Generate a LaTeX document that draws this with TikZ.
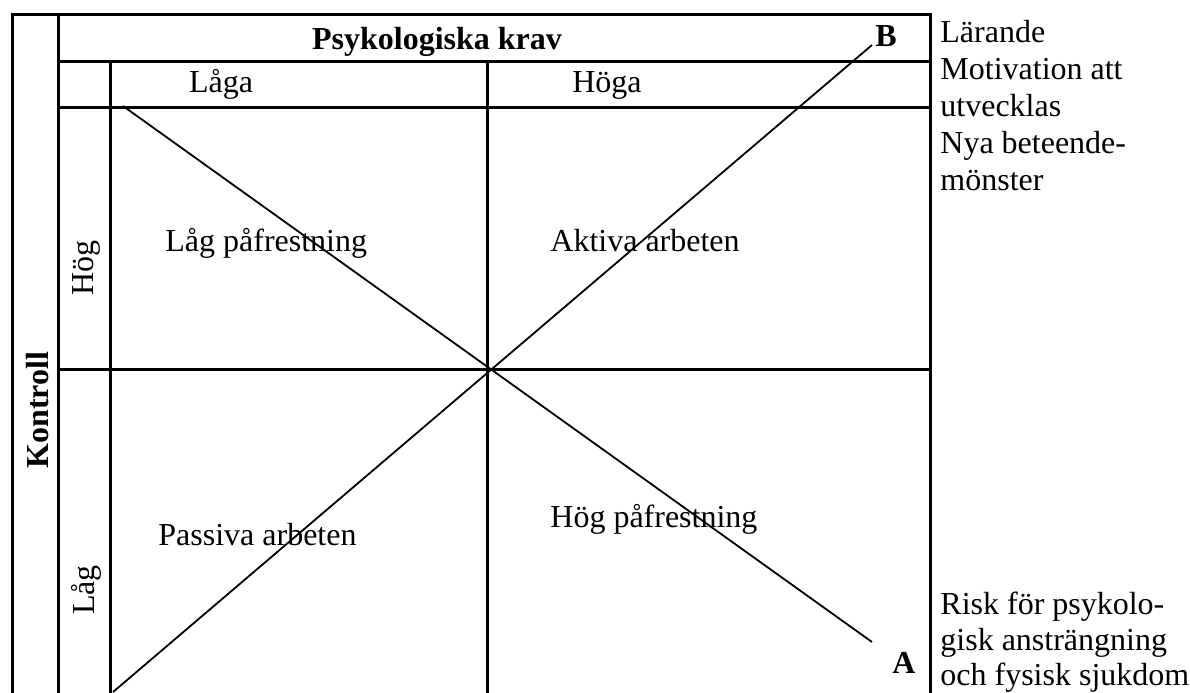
\documentclass[tikz,border=0pt]{standalone}
\usepackage{fontspec}
\setmainfont{Liberation Serif}
\usetikzlibrary{positioning}

\begin{document}
\begin{tikzpicture}[x=0.5pt, y=-0.5pt,
  gridline/.style={line width=1.5pt, line cap=rect},
  diag/.style={line width=0.9pt},
  cell/.style={inner sep=0pt, font=\fontsize{16}{18.5}\selectfont},
  head/.style={inner sep=0pt, font=\bfseries\fontsize{16}{18.5}\selectfont},
  note/.style={cell, align=left, anchor=north west},
]
  \useasboundingbox (0,0) rectangle (1190,692);

  % ramar
  \draw[gridline] (12,692) -- (12,14) -- (930,14) -- (930,692);
  \draw[gridline] (58,14) -- (58,692);
  \draw[gridline] (58,61) -- (930,61);
  \draw[gridline] (58,107) -- (930,107);
  \draw[gridline] (110,61) -- (110,692);
  \draw[gridline] (487,61) -- (487,692);
  \draw[gridline] (58,369) -- (930,369);

  % rubriker
  \node[head, anchor=base] (krav) at (437,49) {Psykologiska krav};
  \node[cell, anchor=base] (laga) at (221,92) {Låga};
  \node[cell, anchor=base] (hoga) at (607,92) {Höga};
  \node[head, rotate=90] (kontroll) at (38,410) {Kontroll};
  \node[cell, rotate=90] (hog) at (86,268) {Hög};
  \node[cell, rotate=90] (lag) at (86,590) {Låg};

  % fälten
  \node[cell, anchor=base west] (lagpa) at (165,251) {Låg påfrestning};
  \node[cell, anchor=base west] (aktiva) at (550,251) {Aktiva arbeten};
  \node[cell, anchor=base west] (passiva) at (158,545) {Passiva arbeten};
  \node[cell, anchor=base west] (hogpa) at (550,527) {Hög påfrestning};

  % diagonaler
  \coordinate (startA) at (123,106);
  \coordinate (endA) at (872,642);
  \coordinate (startB) at (113,692);
  \coordinate (endB) at (872,45);
  \draw[diag] (startA) -- (endA);
  \draw[diag] (startB) -- (endB);
  \node[head, anchor=base] (A) at (904,673) {A};
  \node[head, anchor=base] (B) at (886,46) {B};

  % texter till höger
  \node[note] (larande) at (940,20)
    {Lärande\\Motivation att\\utvecklas\\Nya beteende-\\mönster};
  \node[note, font=\fontsize{16}{17.6}\selectfont] (risk) at (940,592)
    {Risk för psykolo-\\gisk ansträngning\\och fysisk sjukdom};
\end{tikzpicture}
\end{document}
